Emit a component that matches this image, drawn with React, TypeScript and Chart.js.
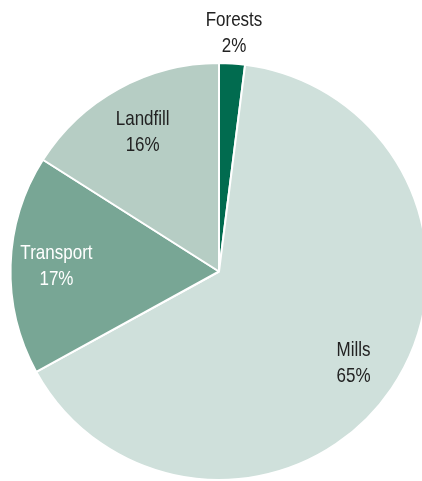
import React, { useEffect, useRef } from "react";
import { Chart, registerables } from "chart.js";

Chart.register(...registerables);

const categories = ["Forests", "Mills", "Transport", "Landfill"];
const shares = [2, 65, 17, 16];
const sliceColors = ["#016b4f", "#cfe0db", "#78a695", "#b6cdc4"];
const labelColors = ["#222222", "#222222", "#ffffff", "#222222"];
const labelRadius = [1.145, 0.78, 0.78, 0.76];

const labelPlugin = {
  id: "sliceLabels",
  afterDatasetsDraw(chart: any) {
    const ctx = chart.ctx;
    const meta = chart.getDatasetMeta(0);
    const sx = 0.81;
    meta.data.forEach((arc: any, i: number) => {
      const { x, y, startAngle, endAngle, outerRadius } = arc.getProps(
        ["x", "y", "startAngle", "endAngle", "outerRadius"],
        true
      );
      const mid = (startAngle + endAngle) / 2;
      const r = outerRadius * labelRadius[i];
      const lx = x + Math.cos(mid) * r;
      const ly = y + Math.sin(mid) * r;
      ctx.save();
      ctx.font = '21px "Liberation Sans", Arial, sans-serif';
      ctx.textAlign = "center";
      ctx.textBaseline = "middle";
      ctx.fillStyle = labelColors[i];
      ctx.translate(lx, ly);
      ctx.scale(sx, 1);
      ctx.fillText(categories[i], 0, -13);
      ctx.fillText(shares[i] + "%", 0, 13);
      ctx.restore();
    });
  },
};

export default function App() {
  const ref = useRef<HTMLCanvasElement>(null);
  useEffect(() => {
    const chart = new Chart(ref.current!, {
      type: "pie",
      data: {
        labels: categories,
        datasets: [
          {
            data: shares,
            backgroundColor: sliceColors,
            borderColor: "#ffffff",
            borderWidth: 2,
          },
        ],
      },
      options: {
        animation: false,
        responsive: false,
        layout: { padding: { top: 62, left: 0, right: 2, bottom: 0 } },
        plugins: {
          legend: { display: false },
          tooltip: { enabled: false },
        },
      },
      plugins: [labelPlugin],
    });
    return () => chart.destroy();
  }, []);
  return (
    <div style={{ position: "fixed", left: 0, top: 0, width: 422, height: 481, overflow: "hidden", background: "#fff" }}>
      <canvas ref={ref} width={440} height={481} style={{ display: "block" }} />
    </div>
  );
}
